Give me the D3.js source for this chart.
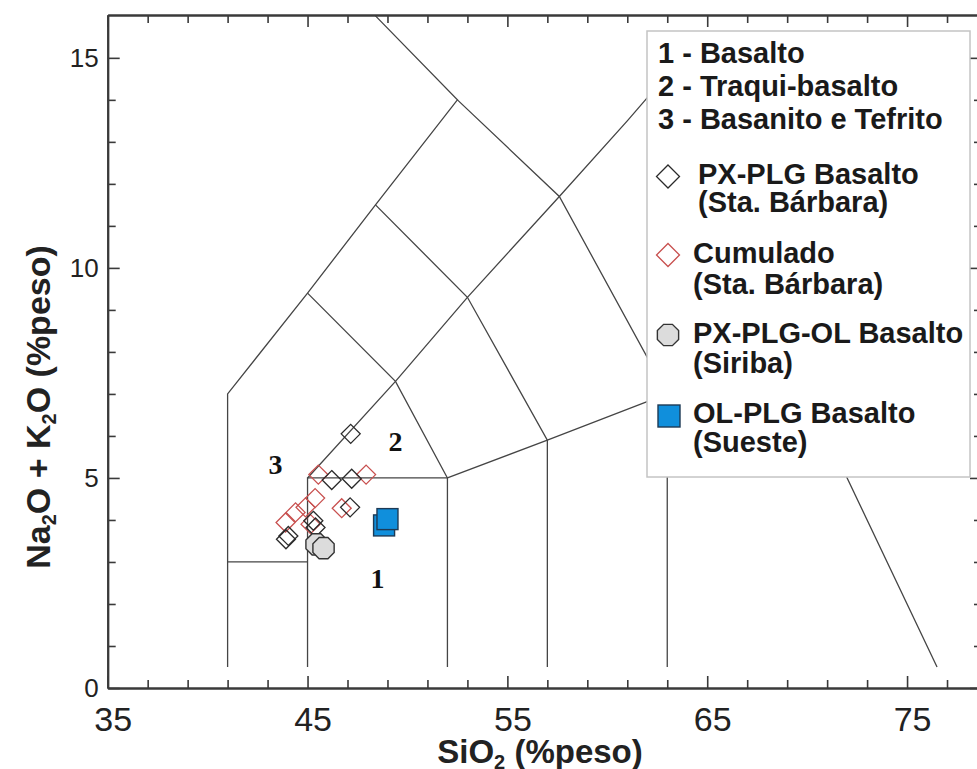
<!DOCTYPE html>
<html>
<head>
<meta charset="utf-8">
<script src="https://cdn.jsdelivr.net/npm/d3@7"></script>
<style>
  body { margin: 0; background: #fff; }
  svg { display: block; }
</style>
</head>
<body>
<svg id="chart" width="977" height="769"></svg>
<script>
// ---- Data -------------------------------------------------------------
// Axis ticks
const xMajorTicks = [35, 45, 55, 65, 75];
const xMinorTicks = [37, 39, 41, 43, 47, 49, 51, 53, 57, 59, 61, 63, 67, 69, 71, 73, 77];
const yMajorTicks = [0, 5, 10, 15];
const yMinorTicks = [1, 2, 3, 4, 6, 7, 8, 9, 11, 12, 13, 14];

// TAS field boundaries (SiO2, Na2O+K2O)
const fieldLines = [
  [[41, 0.5], [41, 7], [45, 9.4], [48.4, 11.5], [52.5, 14], [48.4, 16], [47.6, 16.4]],
  [[41, 3], [45, 3]],
  [[45, 0.5], [45, 5], [52, 5], [52, 0.5]],
  [[45, 5], [49.4, 7.3], [53, 9.3], [57.6, 11.7], [61, 13.5], [63, 14.6]],
  [[45, 9.4], [49.4, 7.3], [52, 5]],
  [[48.4, 11.5], [53, 9.3], [57, 5.9], [57, 0.5]],
  [[52.5, 14], [57.6, 11.7], [63, 7], [63, 0.5]],
  [[52, 5], [57, 5.9], [63, 7], [69, 8], [76.5, 0.5]]
];

// Field numbers
const fieldLabels = [
  { text: "1", x: 48.5, y: 2.6 },
  { text: "2", x: 49.4, y: 5.85 },
  { text: "3", x: 43.4, y: 5.3 }
];

// Samples
const pxPlgBasalto = [[47.16, 6.05], [46.21, 4.95], [47.21, 4.98], [47.13, 4.3], [45.29, 3.98], [45.4, 3.82], [44.04, 3.62], [43.92, 3.54]];
const cumulado = [[45.54, 5.08], [47.93, 5.08], [46.71, 4.28], [45.38, 4.52], [44.9, 4.3], [44.4, 4.18], [43.9, 3.94], [45.15, 3.9]];
const pxPlgOlBasalto = [[45.45, 3.42], [45.8, 3.33]];
const olPlgBasalto = [[48.83, 3.87], [49.0, 4.02]];

const fieldNames = ["1 - Basalto", "2 - Traqui-basalto", "3 - Basanito e Tefrito"];
const seriesNames = [
  ["PX-PLG Basalto", "(Sta. Bárbara)"],
  ["Cumulado", "(Sta. Bárbara)"],
  ["PX-PLG-OL Basalto", "(Siriba)"],
  ["OL-PLG Basalto", "(Sueste)"]
];

// ---- Layout -----------------------------------------------------------
const svg = d3.select("#chart");
const plotL = 107.7, plotR = 982, plotT = 15, plotB = 688;
const x = d3.scaleLinear().domain([35, 78.75]).range([plotL, plotR]);
const y = d3.scaleLinear().domain([0, 16.02]).range([plotB, plotT]);

const ink = "#3a3a3a";
const sans = "'Liberation Sans', Arial, Helvetica, sans-serif";
const narrow = "'Liberation Sans Narrow', 'Arial Narrow', 'Liberation Sans', sans-serif";

svg.append("defs").append("clipPath").attr("id", "plot")
  .append("rect").attr("x", plotL).attr("y", plotT)
  .attr("width", plotR - plotL).attr("height", plotB - plotT);

// Field boundaries
const line = d3.line().x(d => x(d[0])).y(d => y(d[1]));
svg.append("g").attr("clip-path", "url(#plot)")
  .selectAll("path").data(fieldLines).join("path")
  .attr("d", line).attr("fill", "none")
  .attr("stroke", "#454545").attr("stroke-width", 1.3);

// Field numbers
svg.append("g").selectAll("text").data(fieldLabels).join("text")
  .attr("x", d => x(d.x)).attr("y", d => y(d.y) + 9)
  .attr("text-anchor", "middle")
  .attr("font-family", "'Liberation Serif', 'Times New Roman', serif")
  .attr("font-weight", "bold").attr("font-size", 28).attr("fill", "#111")
  .text(d => d.text);

// ---- Axes -------------------------------------------------------------
function styleAxis(g) {
  g.selectAll("path.domain").attr("stroke", ink).attr("stroke-width", 2);
  g.selectAll(".tick line").attr("stroke", ink).attr("stroke-width", 1.6);
}

// bottom
svg.append("g").attr("transform", `translate(0,${plotB})`)
  .call(d3.axisBottom(x).tickValues(xMinorTicks).tickSizeInner(-8).tickSizeOuter(0).tickFormat(""))
  .call(styleAxis);
const bx = svg.append("g").attr("transform", `translate(0,${plotB})`)
  .call(d3.axisBottom(x).tickValues(xMajorTicks).tickSizeInner(-12).tickSizeOuter(0).tickPadding(19))
  .call(styleAxis);
bx.selectAll(".tick text").attr("dx", 5).attr("font-family", narrow)
  .attr("font-size", 34).attr("fill", "#222");

// top
svg.append("g").attr("transform", `translate(0,${plotT})`)
  .call(d3.axisTop(x).tickValues(xMinorTicks).tickSizeInner(-8).tickSizeOuter(0).tickFormat(""))
  .call(styleAxis);
svg.append("g").attr("transform", `translate(0,${plotT})`)
  .call(d3.axisTop(x).tickValues(xMajorTicks).tickSizeInner(-12).tickSizeOuter(0).tickFormat(""))
  .call(styleAxis);

// left
svg.append("g").attr("transform", `translate(${plotL},0)`)
  .call(d3.axisLeft(y).tickValues(yMinorTicks).tickSizeInner(-8).tickSizeOuter(0).tickFormat(""))
  .call(styleAxis);
const ly = svg.append("g").attr("transform", `translate(${plotL},0)`)
  .call(d3.axisLeft(y).tickValues(yMajorTicks).tickSizeInner(-12).tickSizeOuter(0).tickPadding(9))
  .call(styleAxis);
ly.selectAll(".tick text").attr("font-family", sans).attr("font-size", 26).attr("fill", "#222");

// right
svg.append("g").attr("transform", `translate(${plotR},0)`)
  .call(d3.axisRight(y).tickValues(yMinorTicks).tickSizeInner(-8).tickSizeOuter(0).tickFormat(""))
  .call(styleAxis);
svg.append("g").attr("transform", `translate(${plotR},0)`)
  .call(d3.axisRight(y).tickValues(yMajorTicks).tickSizeInner(-12).tickSizeOuter(0).tickFormat(""))
  .call(styleAxis);

// Axis titles
const xt = svg.append("text").attr("x", 540).attr("y", 763)
  .attr("text-anchor", "middle").attr("font-family", sans)
  .attr("font-weight", "bold").attr("font-size", 33).attr("fill", "#222");
xt.append("tspan").text("SiO");
xt.append("tspan").attr("font-size", 20).attr("dy", 6).text("2");
xt.append("tspan").attr("dy", -6).text(" (%peso)");

const yt = svg.append("text")
  .attr("transform", "translate(50,407) rotate(-90)")
  .attr("text-anchor", "middle").attr("font-family", sans)
  .attr("font-weight", "bold").attr("font-size", 34).attr("fill", "#222");
yt.append("tspan").text("Na");
yt.append("tspan").attr("font-size", 20).attr("dy", 6).text("2");
yt.append("tspan").attr("dy", -6).text("O + K");
yt.append("tspan").attr("font-size", 20).attr("dy", 6).text("2");
yt.append("tspan").attr("dy", -6).text("O (%peso)");

// ---- Symbols ----------------------------------------------------------
function diamondPath(cx, cy, r) {
  return `M${cx},${cy - r}L${cx + r},${cy}L${cx},${cy + r}L${cx - r},${cy}Z`;
}
function octagonPath(cx, cy, r) {
  const pts = d3.range(8).map(i => {
    const a = Math.PI / 8 + i * Math.PI / 4;
    return [cx + r * Math.cos(a), cy + r * Math.sin(a)];
  });
  return "M" + pts.map(p => p.join(",")).join("L") + "Z";
}

const marks = svg.append("g");
marks.selectAll("path.cum").data(cumulado).join("path").attr("class", "cum")
  .attr("d", d => diamondPath(x(d[0]), y(d[1]), 9.5))
  .attr("fill", "none").attr("stroke", "#c8504f").attr("stroke-width", 1.3);
marks.selectAll("path.pxp").data(pxPlgBasalto).join("path").attr("class", "pxp")
  .attr("d", d => diamondPath(x(d[0]), y(d[1]), 9.5))
  .attr("fill", "none").attr("stroke", "#2a2a2a").attr("stroke-width", 1.3);
marks.selectAll("path.oct").data(pxPlgOlBasalto).join("path").attr("class", "oct")
  .attr("d", d => octagonPath(x(d[0]), y(d[1]), 11.5))
  .attr("fill", "#dcdcdc").attr("stroke", "#333").attr("stroke-width", 1.4);
marks.selectAll("rect.sq").data(olPlgBasalto).join("rect").attr("class", "sq")
  .attr("x", d => x(d[0]) - 10.5).attr("y", d => y(d[1]) - 10.5)
  .attr("width", 21).attr("height", 21)
  .attr("fill", "#108fdc").attr("stroke", "#1d3a55").attr("stroke-width", 1.4);

// ---- Legend -----------------------------------------------------------
const lg = svg.append("g");
lg.append("rect").attr("x", 647).attr("y", 31).attr("width", 323).attr("height", 446)
  .attr("fill", "#fff").attr("stroke", "#c4c4c4").attr("stroke-width", 1.5);

const legendFont = { "font-family": sans, "font-weight": "bold", "font-size": 29, fill: "#1a1a1a" };
function applyFont(sel) { Object.entries(legendFont).forEach(([k, v]) => sel.attr(k, v)); return sel; }

const fieldBaselines = [63, 96, 128.5];
fieldNames.forEach((t, i) => {
  applyFont(lg.append("text").attr("x", 658).attr("y", fieldBaselines[i]).text(t));
});

const entryBaselines = [[183.5, 212], [262.5, 294], [343, 373], [423, 452]];
const entryX = [698, 693, 693, 693];
const symbolY = [176.5, 255, 335, 416];
seriesNames.forEach((pair, i) => {
  pair.forEach((t, j) => {
    applyFont(lg.append("text").attr("x", entryX[i]).attr("y", entryBaselines[i][j]).text(t));
  });
});
lg.append("path").attr("d", diamondPath(668, symbolY[0], 11.5))
  .attr("fill", "none").attr("stroke", "#2a2a2a").attr("stroke-width", 1.3);
lg.append("path").attr("d", diamondPath(668, symbolY[1], 11.5))
  .attr("fill", "none").attr("stroke", "#c8504f").attr("stroke-width", 1.3);
lg.append("path").attr("d", octagonPath(668, symbolY[2], 11.5))
  .attr("fill", "#dcdcdc").attr("stroke", "#333").attr("stroke-width", 1.4);
lg.append("rect").attr("x", 669 - 11).attr("y", symbolY[3] - 11).attr("width", 22).attr("height", 22)
  .attr("fill", "#108fdc").attr("stroke", "#1d3a55").attr("stroke-width", 1.4);
</script>
</body>
</html>
